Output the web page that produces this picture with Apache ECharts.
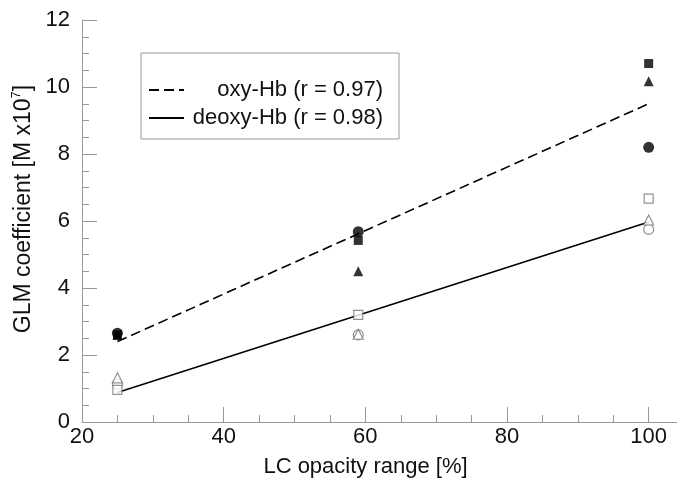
<!DOCTYPE html>
<html>
<head>
<meta charset="utf-8">
<script src="https://cdn.jsdelivr.net/npm/echarts@6/dist/echarts.min.js"></script>
<style>html,body{margin:0;padding:0;background:#fff;}#c{width:677px;height:484px;}</style>
</head>
<body>
<div id="c"></div>
<script>
// Data
const xValues = [25, 59, 100];
const oxyCircle   = [2.65, 5.68, 8.2];
const oxySquare   = [2.6, 5.42, 10.7];
const oxyTriangle = [2.6, 4.5, 10.17];
const deoxyCircle   = [1.13, 2.6, 5.75];
const deoxySquare   = [0.96, 3.2, 6.67];
const deoxyTriangle = [1.32, 2.62, 6.03];
const oxyFitX = [25, 100];
const oxyFitY = [2.4, 9.5];
const deoxyFitX = [25, 100];
const deoxyFitY = [0.88, 5.97];
const oxyName = 'oxy-Hb (r = 0.97)';
const deoxyName = 'deoxy-Hb (r = 0.98)';

const FONT = '"Liberation Sans", Arial, sans-serif';
const FS = 22;
const pts = ys => xValues.map((x, i) => [x, ys[i]]);
const fit = (xs, ys) => xs.map((x, i) => [x, ys[i]]);

function scatter(ys, symbol, size, filled, z) {
  return {
    type: 'scatter', data: pts(ys), symbol: symbol, symbolSize: size, z: z,
    itemStyle: filled ? { color: '#000' } : { color: '#fff', borderColor: '#777', borderWidth: 1.2 }
  };
}

const chart = echarts.init(document.getElementById('c'), null, { renderer: 'canvas' });
chart.setOption({
  animation: false,
  backgroundColor: '#fff',
  textStyle: { fontFamily: FONT },
  grid: { left: 82, top: 20, right: 0, bottom: 62, containLabel: false },
  xAxis: {
    type: 'value', min: 20, max: 104, interval: 20,
    name: 'LC opacity range [%]', nameLocation: 'middle', nameGap: 34, nameMoveOverlap: false,
    nameTextStyle: { fontSize: FS, color: '#111', fontFamily: FONT, padding: [0, 28, 0, 0] },
    axisLine: { lineStyle: { color: '#999', width: 1 } },
    axisTick: { inside: true, length: 15, lineStyle: { color: '#999' } },
    minorTick: { show: true, splitNumber: 4, length: 7, lineStyle: { color: '#999' } },
    axisLabel: { fontSize: FS, color: '#111', fontFamily: FONT, margin: 4, showMaxLabel: false },
    splitLine: { show: false }
  },
  yAxis: {
    type: 'value', min: 0, max: 12, interval: 2,
    name: '{a|GLM coefficient [M x10}{s|7}{a|]}', nameLocation: 'middle', nameGap: 45, nameRotate: 90,
    nameMoveOverlap: false,
    nameTextStyle: {
      padding: [0, 0, 0, 24],
      rich: {
        a: { fontSize: FS + 1, color: '#111', fontFamily: FONT },
        s: { fontSize: 13, color: '#111', fontFamily: FONT, padding: [0, 0, 14, 0] }
      }
    },
    axisLine: { show: true, lineStyle: { color: '#999', width: 1 } },
    axisTick: { inside: true, length: 15, lineStyle: { color: '#999' } },
    minorTick: { show: true, splitNumber: 4, length: 7, lineStyle: { color: '#999' } },
    axisLabel: { fontSize: FS, color: '#111', fontFamily: FONT, margin: 12 },
    splitLine: { show: false }
  },
  legend: {
    data: [oxyName, deoxyName],
    orient: 'vertical', left: 141, top: 53, width: 257,
    padding: [26, 16, 10, 7], itemGap: 6, itemWidth: 35, itemHeight: 22,
    borderColor: '#999', borderWidth: 1, backgroundColor: '#fff',
    itemStyle: { opacity: 0 },
    formatter: n => '{t|' + n + '}',
    textStyle: {
      fontFamily: FONT, color: '#111', fontSize: FS,
      rich: { t: { width: 194, align: 'right', fontSize: FS, fontFamily: FONT, color: '#111' } }
    }
  },
  series: [
    { name: oxyName, type: 'line', data: fit(oxyFitX, oxyFitY), symbol: 'none', z: 3,
      lineStyle: { color: '#000', width: 1.6, type: [10, 5] }, itemStyle: { color: '#000' } },
    { name: deoxyName, type: 'line', data: fit(deoxyFitX, deoxyFitY), symbol: 'none', z: 3,
      lineStyle: { color: '#000', width: 1.6, type: 'solid' }, itemStyle: { color: '#000' } },
    scatter(oxyTriangle, 'triangle', 10, true, 4),
    scatter(oxySquare, 'rect', 9, true, 5),
    scatter(oxyCircle, 'circle', 11, true, 6),
    scatter(deoxyCircle, 'circle', 10, false, 5),
    scatter(deoxySquare, 'rect', 9, false, 5),
    scatter(deoxyTriangle, 'triangle', 10, false, 5)
  ]
});
</script>
</body>
</html>
